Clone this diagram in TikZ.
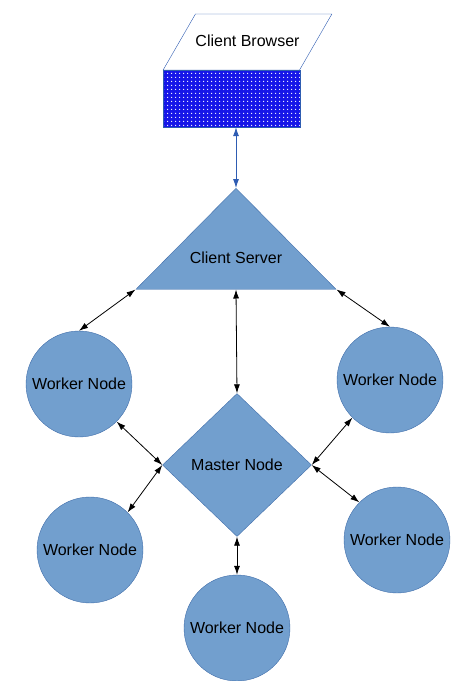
\documentclass[tikz,border=0pt]{standalone}
\usepackage{fontspec}
\setmainfont{Liberation Sans}
\usetikzlibrary{shapes.geometric,arrows.meta,patterns.meta,positioning}

\definecolor{nodefill}{RGB}{114,159,206}
\definecolor{nodeline}{RGB}{65,110,170}
\definecolor{webblue}{RGB}{46,92,178}
\definecolor{screenblue}{RGB}{22,22,232}

\begin{document}
\begin{tikzpicture}
[x=1pt, y=-1pt,
% STYLES
every node/.style={font=\fontsize{16}{19}\selectfont, inner sep=0pt},
% browser window and its screen
browser/.style={trapezium, trapezium left angle=60, trapezium right angle=120, draw=webblue, fill=white, text height=12pt, text depth=3pt, inner xsep=0pt, inner ysep=20.5pt, minimum width=169},
screen/.style={rectangle, draw=webblue, preaction={fill=screenblue}, pattern={Dots[distance=4pt, radius=0.8pt]}, pattern color=white, minimum width=137, minimum height=57},
% server, master and workers
server/.style={isosceles triangle, shape border rotate=90, isosceles triangle apex angle=90, isosceles triangle stretches, draw=nodeline, fill=nodefill, minimum width=200, minimum height=101},
master/.style={diamond, draw=nodeline, fill=nodefill, minimum width=149, minimum height=143},
worker/.style={circle, draw=nodeline, fill=nodefill, minimum size=106},
link/.style={>={Latex[length=9pt,width=6pt]}, <->, line width=0.8pt}]

\useasboundingbox (0,0) rectangle (462,681);

% Draw browser
\node [browser] (browser) at (247.5,42) {Client Browser};
\node [screen] (screen) at (231.5,98.5) {};

% Draw server and master
\node [server, anchor=apex] (server) at (236,188) {};
\node [above=26pt of server.south] (servertext) {Client Server};
\node [master] (master) at (237,465) {Master Node};

% Draw workers
\node [worker] (w1) at (79,384) {Worker Node};
\node [worker] (w2) at (390,380) {Worker Node};
\node [worker] (w3) at (90,550) {Worker Node};
\node [worker] (w4) at (237,628) {Worker Node};
\node [worker] (w5) at (397,540) {Worker Node};

% Links
\draw [link, webblue] (server.apex) -- (server.apex |- screen.south);
\draw [link] (server.left corner) -- (w1.north);
\draw [link] (server.right corner) -- (w2.north);
\draw [link] (server.south) -- (master.north);
\draw [link] (w1.-45) -- (master.west);
\draw [link] (w3.45) -- (master.west);
\draw [link] (w2.225) -- (master.east);
\draw [link] (w5.135) -- (master.east);
\draw [link] (master.south) -- (w4.north);

\end{tikzpicture}
\end{document}
